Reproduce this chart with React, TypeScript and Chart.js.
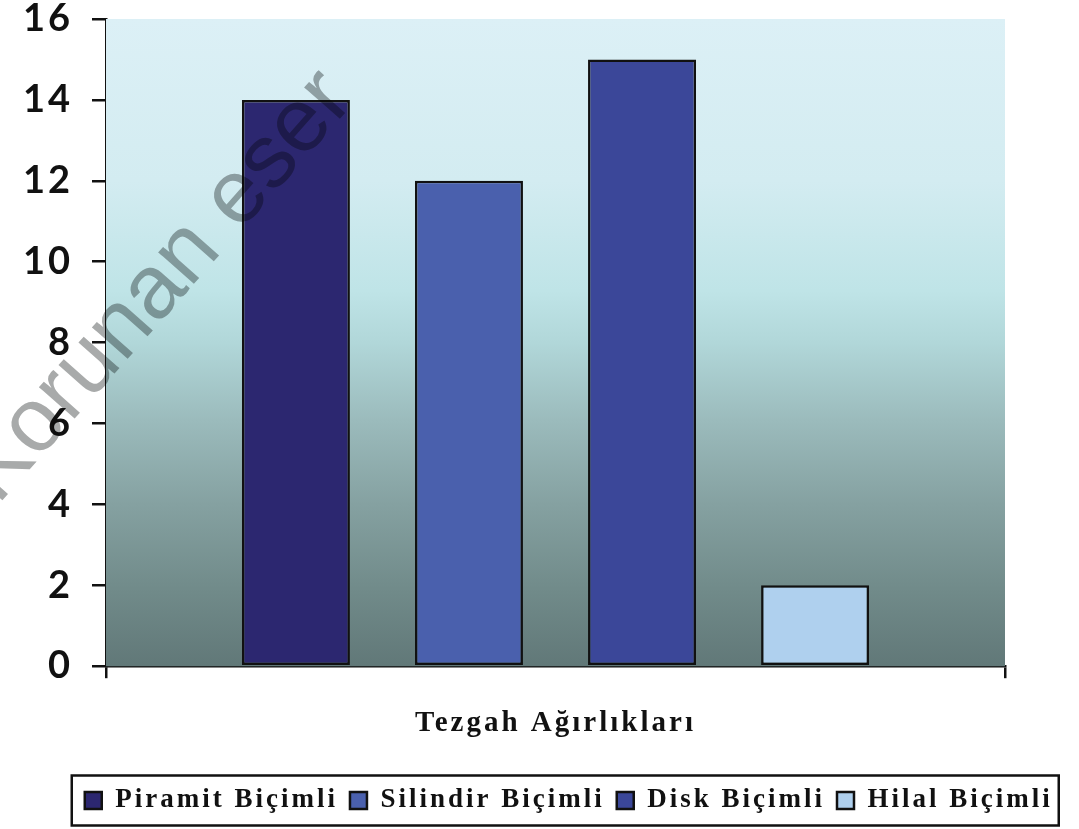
import React, { useEffect, useRef } from "react";
import { Chart, registerables } from "chart.js";

Chart.register(...registerables);

const categories = [""];
const seriesNames = ["Piramit Biçimli", "Silindir Biçimli", "Disk Biçimli", "Hilal Biçimli"];
const piramitValues = [14];
const silindirValues = [12];
const diskValues = [15];
const hilalValues = [2];
const seriesColors = ["#2c2770", "#4a60ad", "#3b4799", "#afd0ee"];
const yTicks = [0, 2, 4, 6, 8, 10, 12, 14, 16];
const xTitle = "Tezgah Ağırlıkları";
const watermark = "Korunan eser";

const spacingPlugin = {
  id: "spacing",
  beforeLayout(chart: any) {
    chart.ctx.letterSpacing = "3px";
  },
  afterLayout(chart: any) {
    const lg = chart.legend;
    if (lg) {
      lg.left = 58.5;
      lg.width = lg.right - lg.left;
    }
  },
  beforeDraw(chart: any) {
    chart.ctx.letterSpacing = "3px";
  },
};

const bgPlugin = {
  id: "bg",
  beforeDatasetsDraw(chart: any) {
    const { ctx, chartArea: a } = chart;
    const g = ctx.createLinearGradient(0, a.top, 0, a.bottom);
    g.addColorStop(0, "#dcf0f6");
    g.addColorStop(0.25, "#d3ecf1");
    g.addColorStop(0.42, "#bfe4e7");
    g.addColorStop(0.5, "#b1d7d9");
    g.addColorStop(0.62, "#9bbbbc");
    g.addColorStop(0.75, "#85a1a1");
    g.addColorStop(0.88, "#718b8a");
    g.addColorStop(1, "#617878");
    ctx.save();
    ctx.fillStyle = g;
    ctx.fillRect(a.left, a.top, a.right - a.left, a.bottom - a.top);
    ctx.restore();
  },
};

const overlayPlugin = {
  id: "overlay",
  afterDraw(chart: any) {
    const { ctx } = chart;
    const lg = chart.legend;
    const hb = lg && lg.legendHitBoxes;
    if (hb && hb.length) {
      const first = hb[0];
      const last = hb[hb.length - 1];
      const cy = first.top + first.height / 2;
      ctx.save();
      ctx.strokeStyle = "#111";
      ctx.lineWidth = 2.5;
      ctx.strokeRect(first.left - 13, cy - 25, last.left + last.width + 6 - (first.left - 13), 50);
      ctx.restore();
    }
    ctx.save();
    ctx.letterSpacing = "0px";
    ctx.globalCompositeOperation = "multiply";
    ctx.translate(158, 287);
    ctx.rotate((-48.5 * Math.PI) / 180);
    ctx.font = "90px 'Liberation Sans', Arial, sans-serif";
    ctx.fillStyle = "rgb(168,170,170)";
    ctx.textAlign = "center";
    ctx.textBaseline = "middle";
    ctx.fillText(watermark, 0, 0);
    ctx.restore();
  },
};

export default function App() {
  const ref = useRef<HTMLCanvasElement>(null);
  useEffect(() => {
    if (!ref.current) return;
    const values = [piramitValues, silindirValues, diskValues, hilalValues];
    const chart = new Chart(ref.current, {
      type: "bar",
      data: {
        labels: categories,
        datasets: seriesNames.map((name, i) => ({
          label: name,
          data: values[i],
          backgroundColor: seriesColors[i],
          borderColor: "#111",
          borderWidth: 2.5,
          borderSkipped: false,
          categoryPercentage: 0.77,
          barPercentage: 0.624,
        })),
      },
      options: {
        responsive: false,
        animation: false,
        layout: { padding: { left: 8, right: 0, top: 0, bottom: 5 } },
        plugins: {
          tooltip: { enabled: false },
          legend: {
            position: "bottom",
            labels: {
              boxWidth: 17,
              boxHeight: 17,
              padding: 12,
              color: "#111",
              font: { family: "'Liberation Serif', 'Times New Roman', serif", size: 27, weight: "bold", lineHeight: 1.2 },
            },
          },
        },
        scales: {
          x: {
            offset: true,
            grid: { display: true, drawOnChartArea: false, color: "#111", lineWidth: 2.5, tickLength: 12, offset: true },
            border: { display: true, color: "#111", width: 2.5 },
            ticks: { display: false },
            title: {
              display: true,
              text: xTitle,
              color: "#111",
              font: { family: "'Liberation Serif', 'Times New Roman', serif", size: 29, weight: "bold", lineHeight: 1.2 },
              padding: { top: 27.6, bottom: 34.4 },
            },
          },
          y: {
            min: 0,
            max: 16,
            afterFit: (s: any) => {
              s.width = 98;
              s.paddingTop = 19;
              s.paddingBottom = 19;
            },
            afterBuildTicks: (s: any) => { s.ticks = yTicks.map((v) => ({ value: v })); },
            grid: { display: true, drawOnChartArea: false, color: "#111", lineWidth: 2.5, tickLength: 14 },
            border: { display: true, color: "#111", width: 2.5 },
            ticks: {
              padding: 19,
              color: "#111",
              font: { family: "Lato, 'Open Sans', sans-serif", size: 38, weight: "bold", lineHeight: 1 },
            },
          },
          yR: {
            type: "linear",
            position: "right",
            display: true,
            afterFit: (s: any) => { s.width = 74; },
            grid: { display: false },
            border: { display: false },
            ticks: { display: false },
          },
        },
      },
      plugins: [spacingPlugin, bgPlugin, overlayPlugin],
    } as any);
    return () => chart.destroy();
  }, []);
  return (
    <div style={{ position: "fixed", left: 0, top: 0, width: 1079, height: 829, background: "#fff" }}>
      <canvas ref={ref} width={1079} height={829} style={{ display: "block" }} />
    </div>
  );
}
